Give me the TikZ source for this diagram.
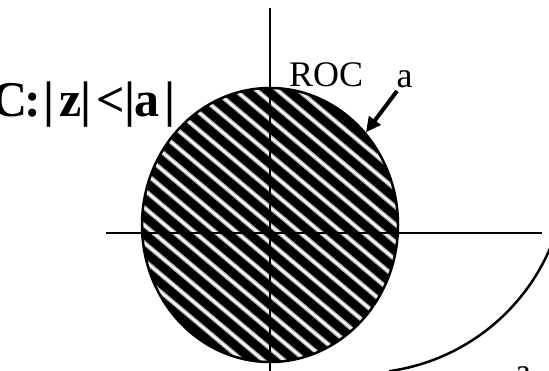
\documentclass[tikz,border=0pt]{standalone}
\usepackage{fontspec}
\setmainfont{Liberation Serif}
\usetikzlibrary{shapes.geometric,arrows.meta}
\begin{document}
\begin{tikzpicture}[x=1pt,y=-1pt,
  axis/.style={line width=2pt},
  stripehalo/.style={gray!60, line width=4.5pt},
  stripecore/.style={white, line width=1.8pt},
  pointer/.style={line width=4pt, -{Triangle[length=15pt,width=14pt]}},
  bigtext/.style={font=\fontsize{50}{60}\selectfont\bfseries, inner sep=0pt, anchor=base west},
  lbl/.style={font=\fontsize{36}{43}\selectfont, inner sep=0pt, anchor=base west}]
\useasboundingbox (0,0) rectangle (549,371);
\clip (0,0) rectangle (549,371);
% hatched region of convergence
\begin{scope}
  \clip (270,225) ellipse [x radius=128, y radius=137];
  \fill[black] (130,80) rectangle (410,370);
  \foreach \k in {-14,...,14}{
    \draw[stripehalo] ({270+\k*13.5*(-0.643)-220*0.766},{225+\k*13.5*0.766-220*0.643}) -- ({270+\k*13.5*(-0.643)+220*0.766},{225+\k*13.5*0.766+220*0.643});
    \draw[stripecore] ({270+\k*13.5*(-0.643)-220*0.766},{225+\k*13.5*0.766-220*0.643}) -- ({270+\k*13.5*(-0.643)+220*0.766},{225+\k*13.5*0.766+220*0.643});
  }
\end{scope}
\node[ellipse, draw, line width=2.5pt, minimum width=256pt, minimum height=274pt, inner sep=0pt] (disc) at (270,225) {};
% axes
\coordinate (ytop) at (270,8);
\coordinate (ybot) at (270,374);
\coordinate (xleft) at (106,233);
\coordinate (xright) at (542,233);
\draw[axis] (xleft) -- (xright);
\draw[axis] (ytop) -- (ybot);
% outer arc
\draw[line width=2.5pt] plot[domain=18:82, samples=60, smooth] ({360.5+206.3*cos(\x)},{166.9+206.3*sin(\x)});
% labels
\node[bigtext] (cond) at (-9,117) {C\hspace{-3pt}:\hspace{3pt}|\hspace{4.5pt}z\hspace{-1.5pt}|\hspace{5pt}<\hspace{-0.5pt}|\hspace{-1pt}a\hspace{5pt}|};
\node[lbl] (roc) at (289,87) {ROC};
\node[lbl] (aval) at (396.5,88) {a};
\node[lbl] (aval2) at (515,383) {a};
% pointer
\coordinate (atail) at (397,91);
\draw[pointer] (atail) -- (disc.44);
\end{tikzpicture}
\end{document}
